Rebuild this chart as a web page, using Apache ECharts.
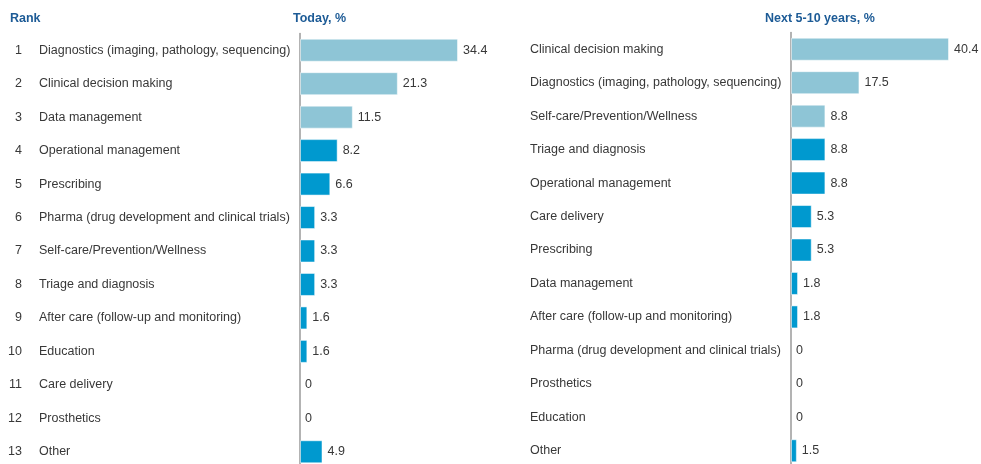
<!DOCTYPE html>
<html>
<head>
<meta charset="utf-8">
<script src="https://cdn.jsdelivr.net/npm/echarts@6/dist/echarts.min.js"></script>
<style>
  html, body { margin: 0; padding: 0; background: #fff; }
  #chart { width: 981px; height: 464px; }
</style>
</head>
<body>
<div id="chart"></div>
<script>
// 左：今天
var todayNames = ['Diagnostics (imaging, pathology, sequencing)', 'Clinical decision making', 'Data management',
    'Operational management', 'Prescribing', 'Pharma (drug development and clinical trials)',
    'Self-care/Prevention/Wellness', 'Triage and diagnosis', 'After care (follow-up and monitoring)',
    'Education', 'Care delivery', 'Prosthetics', 'Other'];
var todayValues = [34.4, 21.3, 11.5, 8.2, 6.6, 3.3, 3.3, 3.3, 1.6, 1.6, 0, 0, 4.9];

// 右：未来5-10年
var futureNames = ['Clinical decision making', 'Diagnostics (imaging, pathology, sequencing)',
    'Self-care/Prevention/Wellness', 'Triage and diagnosis', 'Operational management', 'Care delivery',
    'Prescribing', 'Data management', 'After care (follow-up and monitoring)',
    'Pharma (drug development and clinical trials)', 'Prosthetics', 'Education', 'Other'];
var futureValues = [40.4, 17.5, 8.8, 8.8, 8.8, 5.3, 5.3, 1.8, 1.8, 0, 0, 0, 1.5];

var ranks = ['1', '2', '3', '4', '5', '6', '7', '8', '9', '10', '11', '12', '13'];

var lightColor = '#8ec5d6';
var darkColor = '#0099cf';
var textColor = '#383838';
var titleColor = '#1d5b96';
var font = 'Arial, "Liberation Sans", sans-serif';
var fs = 12.5;

function barData(values) {
    return values.map(function (v, i) {
        return {
            value: v,
            itemStyle: {
                color: i < 3 ? lightColor : darkColor,
                borderWidth: v > 0 ? 1 : 0   // 0值不画边框，避免盖住轴线
            }
        };
    });
}

function headRich() {
    return {
        b: { color: titleColor, fontSize: fs, fontWeight: 'bold', fontFamily: font },
        n: { color: titleColor, fontSize: fs, fontFamily: font }
    };
}

var chart = echarts.init(document.getElementById('chart'));
var option = {
    animation: false,
    textStyle: { fontFamily: font },
    title: [
        { text: 'Rank', left: 5, top: 7, textStyle: { color: titleColor, fontSize: fs, fontWeight: 'bold', fontFamily: font } },
        { text: '{b|Today, }{n|%}', left: 288, top: 7, textStyle: { rich: headRich() } },
        { text: '{b|Next 5-10 years, }{n|%}', left: 760, top: 7, textStyle: { rich: headRich() } }
    ],
    grid: [
        { left: 300, top: 33.5, width: 158, height: 435, outerBoundsMode: 'none' },
        { left: 791, top: 32.5, width: 158, height: 435, outerBoundsMode: 'none' }
    ],
    xAxis: [
        { gridIndex: 0, type: 'value', min: 0, max: 34.4, show: false },
        { gridIndex: 1, type: 'value', min: 0, max: 40.4, show: false }
    ],
    yAxis: [
        {
            gridIndex: 0, type: 'category', inverse: true, data: todayNames,
            axisLine: { lineStyle: { color: '#9a9a9a', width: 1.5 } },
            axisTick: { show: false },
            axisLabel: { margin: 261, align: 'left', color: textColor, fontSize: fs, fontFamily: font }
        },
        {
            // 排名
            gridIndex: 0, type: 'category', inverse: true, data: ranks, position: 'left', offset: 0,
            axisLine: { show: false },
            axisTick: { show: false },
            axisLabel: { margin: 278, align: 'right', color: textColor, fontSize: fs, fontFamily: font }
        },
        {
            gridIndex: 1, type: 'category', inverse: true, data: futureNames,
            axisLine: { lineStyle: { color: '#9a9a9a', width: 1.5 } },
            axisTick: { show: false },
            axisLabel: { margin: 261, align: 'left', color: textColor, fontSize: fs, fontFamily: font }
        }
    ],
    series: [
        {
            type: 'bar', xAxisIndex: 0, yAxisIndex: 0, barWidth: 23,
            data: barData(todayValues),
            itemStyle: { borderColor: 'rgba(255,255,255,0.5)' },
            label: { show: true, position: 'right', distance: 5, color: textColor, fontSize: fs, fontFamily: font }
        },
        {
            type: 'bar', xAxisIndex: 1, yAxisIndex: 2, barWidth: 23,
            data: barData(futureValues),
            itemStyle: { borderColor: 'rgba(255,255,255,0.5)' },
            label: { show: true, position: 'right', distance: 5, color: textColor, fontSize: fs, fontFamily: font }
        }
    ]
};
chart.setOption(option);
</script>
</body>
</html>
